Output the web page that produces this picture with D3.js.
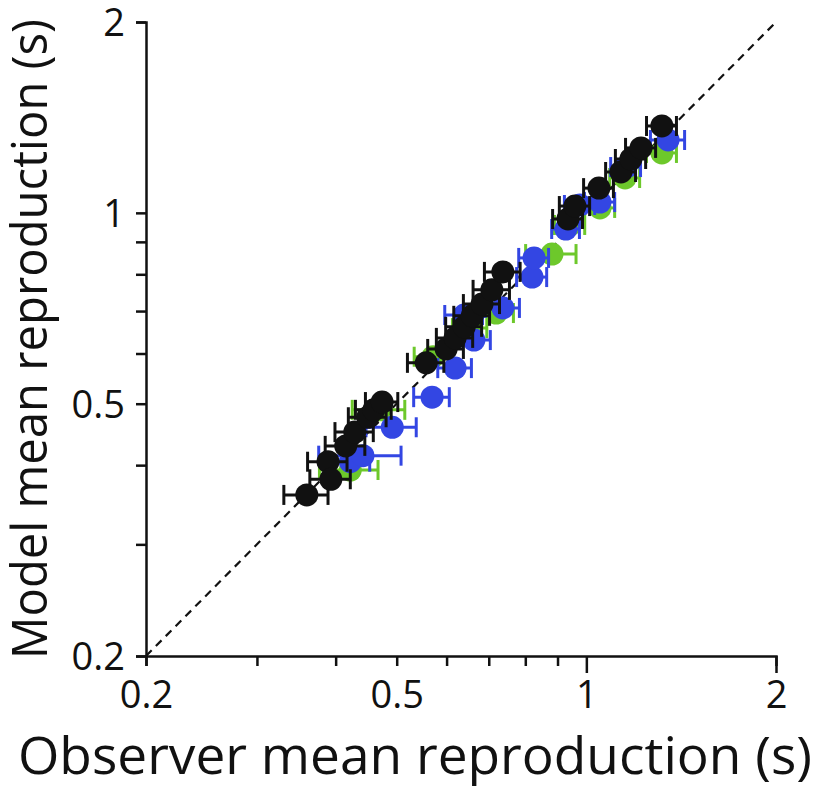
<!DOCTYPE html>
<html>
<head>
<meta charset="utf-8">
<script src="https://cdn.jsdelivr.net/npm/d3@7"></script>
<style>
  html, body { margin: 0; padding: 0; background: #fff; }
  svg { display: block; }
  text { font-family: "Open Sans", "Noto Sans", sans-serif; fill: #111; }
</style>
</head>
<body>
<svg id="chart" width="819" height="788"></svg>
<script>
// ---- data (seconds) ----
const greenX    = [0.422, 0.470, 0.571, 0.654, 0.719, 0.882, 0.942, 1.051, 1.152, 1.318];
const greenY    = [0.393, 0.489, 0.593, 0.658, 0.695, 0.861, 0.957, 1.018, 1.135, 1.243];
const greenErr  = [0.045, 0.045, 0.038, 0.041, 0.047, 0.081, 0.052, 0.058, 0.063, 0.072];

const blueX     = [0.422, 0.442, 0.492, 0.569, 0.619, 0.640, 0.663, 0.737, 0.820, 0.826, 0.928, 0.977, 1.051, 1.156, 1.348];
const blueY     = [0.405, 0.414, 0.459, 0.512, 0.569, 0.690, 0.630, 0.708, 0.792, 0.849, 0.943, 1.029, 1.040, 1.181, 1.303];
const blueErr   = [0.031, 0.066, 0.045, 0.037, 0.038, 0.044, 0.041, 0.046, 0.045, 0.045, 0.047, 0.054, 0.058, 0.063, 0.084];

const blackX    = [0.360, 0.389, 0.393, 0.415, 0.429, 0.450, 0.460, 0.474,
                   0.557, 0.599, 0.619, 0.640, 0.659, 0.683, 0.708, 0.737,
                   0.935, 0.959, 1.047, 1.135, 1.177, 1.221, 1.318];
const blackY    = [0.359, 0.405, 0.380, 0.429, 0.451, 0.476, 0.489, 0.503,
                   0.580, 0.610, 0.635, 0.661, 0.688, 0.718, 0.756, 0.807,
                   0.978, 1.025, 1.094, 1.160, 1.216, 1.266, 1.371];
const blackErr  = [0.029, 0.028, 0.029, 0.030, 0.030, 0.031, 0.030, 0.028,
                   0.037, 0.039, 0.041, 0.042, 0.043, 0.045, 0.047, 0.048,
                   0.051, 0.053, 0.057, 0.062, 0.065, 0.067, 0.072];

const majorTicks = [0.2, 0.5, 1, 2];
const tickLabels = ["0.2", "0.5", "1", "2"];
const minorTicks = [0.3, 0.4, 0.6, 0.7, 0.8, 0.9];
const longXTicks = [1, 2];

const xTitle = "Observer mean reproduction (s)";
const yTitle = "Model mean reproduction (s)";

// ---- layout ----
const svg = d3.select("#chart");
const x = d3.scaleLog().domain([0.2, 2]).range([146, 776]);
const y = d3.scaleLog().domain([0.2, 2]).range([656, 22]);
const allTicks = majorTicks.concat(minorTicks).sort((a, b) => a - b);
const labelFor = v => { const i = majorTicks.indexOf(v); return i >= 0 ? tickLabels[i] : ""; };

// identity dashed line
svg.append("line")
  .attr("x1", x(0.2)).attr("y1", y(0.2))
  .attr("x2", x(2)).attr("y2", y(2))
  .attr("stroke", "#111").attr("stroke-width", 2.2)
  .attr("stroke-dasharray", "8,6");

// x axis
const gx = svg.append("g").attr("transform", `translate(0,${y(0.2)})`)
  .call(d3.axisBottom(x).tickValues(allTicks).tickFormat(labelFor).tickSizeOuter(0).tickSize(10));
gx.selectAll(".tick line").attr("y2", d => longXTicks.includes(d) ? 17 : 10);
gx.selectAll(".tick text").attr("y", 52).attr("dy", null)
  .style("font-size", "38px").style("font-family", "'Open Sans', sans-serif").attr("fill", "#111");

// y axis
const gy = svg.append("g").attr("transform", `translate(${x(0.2)},0)`)
  .call(d3.axisLeft(y).tickValues(allTicks).tickFormat(labelFor).tickSizeOuter(0).tickSize(10).tickPadding(11));
gy.selectAll(".tick text").attr("dy", "0.36em")
  .style("font-size", "38px").style("font-family", "'Open Sans', sans-serif").attr("fill", "#111");

[gx, gy].forEach(g => {
  g.select(".domain").attr("stroke", "#111").attr("stroke-width", 2.5);
  g.selectAll(".tick line").attr("stroke", "#111").attr("stroke-width", 2.5);
});

// series
function drawSeries(xs, ys, errs, color) {
  const data = xs.map((v, i) => ({ x: v, y: ys[i], e: errs[i] }));
  const g = svg.append("g");
  const eb = g.selectAll("g.eb").data(data).join("g").attr("class", "eb")
    .attr("stroke", color).attr("stroke-width", 3);
  eb.append("line")
    .attr("x1", d => x(d.x - d.e)).attr("x2", d => x(d.x + d.e))
    .attr("y1", d => y(d.y)).attr("y2", d => y(d.y));
  eb.append("line")
    .attr("x1", d => x(d.x - d.e)).attr("x2", d => x(d.x - d.e))
    .attr("y1", d => y(d.y) - 10).attr("y2", d => y(d.y) + 10);
  eb.append("line")
    .attr("x1", d => x(d.x + d.e)).attr("x2", d => x(d.x + d.e))
    .attr("y1", d => y(d.y) - 10).attr("y2", d => y(d.y) + 10);
  g.selectAll("circle").data(data).join("circle")
    .attr("cx", d => x(d.x)).attr("cy", d => y(d.y)).attr("r", 11.5)
    .attr("fill", color);
}
drawSeries(greenX, greenY, greenErr, "#6dc82b");
drawSeries(blueX, blueY, blueErr, "#3346e3");
drawSeries(blackX, blackY, blackErr, "#111111");

// titles
svg.append("text")
  .attr("x", 415).attr("y", 774).attr("text-anchor", "middle")
  .attr("textLength", 794).attr("lengthAdjust", "spacingAndGlyphs")
  .style("font-size", "51px").text(xTitle);
svg.append("text")
  .attr("transform", "translate(47,339) rotate(-90)")
  .attr("text-anchor", "middle")
  .attr("textLength", 640).attr("lengthAdjust", "spacingAndGlyphs")
  .style("font-size", "50px").text(yTitle);
</script>
</body>
</html>
